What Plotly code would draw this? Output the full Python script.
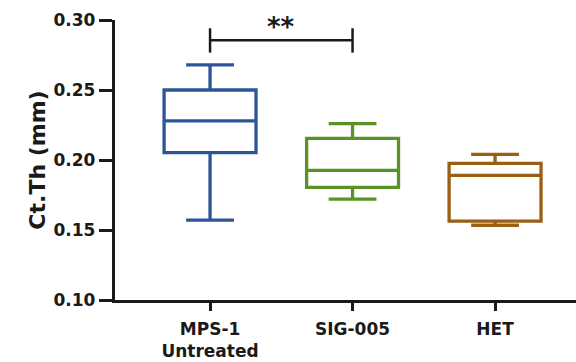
import plotly.graph_objects as go

# Group labels and box statistics (Ct.Th, mm)
categories = ["MPS-1<br>Untreated", "SIG-005", "HET"]
upper_whisker = [0.268, 0.226, 0.204]
q3_values = [0.250, 0.2155, 0.1976]
medians = [0.228, 0.1926, 0.189]
q1_values = [0.2052, 0.1805, 0.1564]
lower_whisker = [0.157, 0.172, 0.1534]
colors = ["#2B5597", "#5A9226", "#9A5F14"]

# Significance bracket between the first two groups
sig_pair = [0, 1]
sig_level = 0.2855
sig_text = "**"

FONT = "DejaVu Sans"
INK = "#1a1a1a"

fig = go.Figure()
for i, cat in enumerate(categories):
    fig.add_trace(go.Box(
        x=[cat],
        q1=[q1_values[i]],
        median=[medians[i]],
        q3=[q3_values[i]],
        lowerfence=[lower_whisker[i]],
        upperfence=[upper_whisker[i]],
        width=0.645,
        whiskerwidth=0.52,
        line=dict(color=colors[i], width=3.3),
        fillcolor="rgba(255,255,255,0)",
        boxpoints=False,
        showlegend=False,
        hoverinfo="skip",
    ))

# bracket: horizontal bar with end ticks
fig.add_shape(type="line", xref="x", yref="y",
              x0=sig_pair[0], x1=sig_pair[1], y0=sig_level, y1=sig_level,
              line=dict(color=INK, width=2.5))
for xp in sig_pair:
    fig.add_shape(type="line", xref="x", yref="y",
                  x0=xp, x1=xp, y0=sig_level - 0.0088, y1=sig_level + 0.0086,
                  line=dict(color=INK, width=2.5))
fig.add_annotation(x=sum(sig_pair) / 2, y=sig_level - 0.0026, xref="x", yref="y",
                   text=sig_text, showarrow=False, yanchor="bottom",
                   font=dict(family=FONT, size=26, color=INK, weight="bold"))

fig.update_layout(
    width=576, height=362,
    margin=dict(l=115, r=0, t=20, b=62),
    paper_bgcolor="white", plot_bgcolor="white",
    font=dict(family=FONT, color=INK, size=17, weight="bold"),
)
fig.update_xaxes(
    type="category",
    categoryorder="array", categoryarray=categories,
    range=[-0.667, 2.568],
    showline=True, linecolor=INK, linewidth=3.3,
    ticks="outside", ticklen=8, tickwidth=3.3, tickcolor=INK,
    ticklabelstandoff=3,
    tickfont=dict(family=FONT, size=17, color=INK, weight="bold"),
    showgrid=False, zeroline=False,
)
fig.update_yaxes(
    range=[0.10, 0.30],
    tickvals=[0.10, 0.15, 0.20, 0.25, 0.30],
    ticktext=["0.10", "0.15", "0.20", "0.25", "0.30"],
    showline=True, linecolor=INK, linewidth=3.3,
    ticks="outside", ticklen=13, tickwidth=3.3, tickcolor=INK,
    tickfont=dict(family=FONT, size=17, color=INK, weight="bold"),
    title=dict(text="Ct.Th (mm)", standoff=2,
               font=dict(family=FONT, size=22, color=INK, weight="bold")),
    showgrid=False, zeroline=False,
)

fig.write_html("out.html")
